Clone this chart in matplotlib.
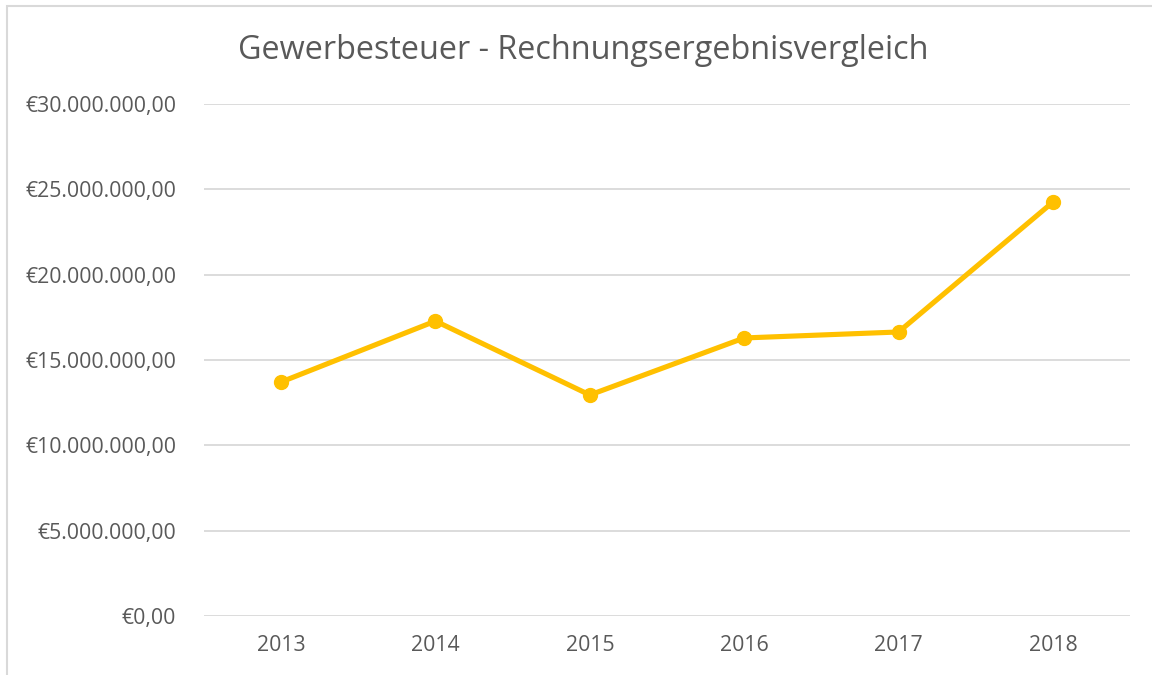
import matplotlib.pyplot as plt
from matplotlib.patches import Rectangle
from matplotlib.ticker import FuncFormatter

plt.rcParams['font.family'] = ['Open Sans', 'DejaVu Sans']

years = ['2013', '2014', '2015', '2016', '2017', '2018']
gewerbesteuer = [13710000, 17280000, 12950000, 16290000, 16640000, 24250000]

grey = '#595959'
gold = '#FFC000'


def euro(v, pos):
    s = f"{v:,.2f}"
    s = s.replace(',', 'X').replace('.', ',').replace('X', '.')
    return '€' + s


fig = plt.figure(figsize=(11.52, 6.75), dpi=100)
ax = fig.add_axes([0.177, 0.0874, 0.804, 0.7586])

x = range(len(years))
ax.plot(x, gewerbesteuer, color=gold, linewidth=3.7, marker='o', markersize=10,
        solid_capstyle='round', zorder=3)

ax.set_xlim(-0.5, len(years) - 0.5)
ax.set_ylim(0, 30000000)
ax.set_yticks(range(0, 30000001, 5000000))
ax.yaxis.set_major_formatter(FuncFormatter(euro))
ax.set_xticks(list(x))
ax.set_xticklabels(years)
ax.grid(axis='y', color='#d9d9d9', linewidth=1.3)
ax.set_axisbelow(True)
for s in ax.spines.values():
    s.set_visible(False)
ax.tick_params(axis='both', length=0, labelsize=15.3, colors=grey)
ax.tick_params(axis='y', pad=20)
ax.tick_params(axis='x', pad=14)

fig.text(0.506, 0.925, 'Gewerbesteuer - Rechnungsergebnisvergleich',
         ha='center', va='center', fontsize=23.3, color=grey)

# chart frame
fig.patches.append(Rectangle((7 / 1152, -0.1), 1.2, 1.1 - 6 / 675,
                             transform=fig.transFigure, fill=False,
                             edgecolor='#d9d9d9', linewidth=1.5))

fig.savefig('out.png', dpi=100)
